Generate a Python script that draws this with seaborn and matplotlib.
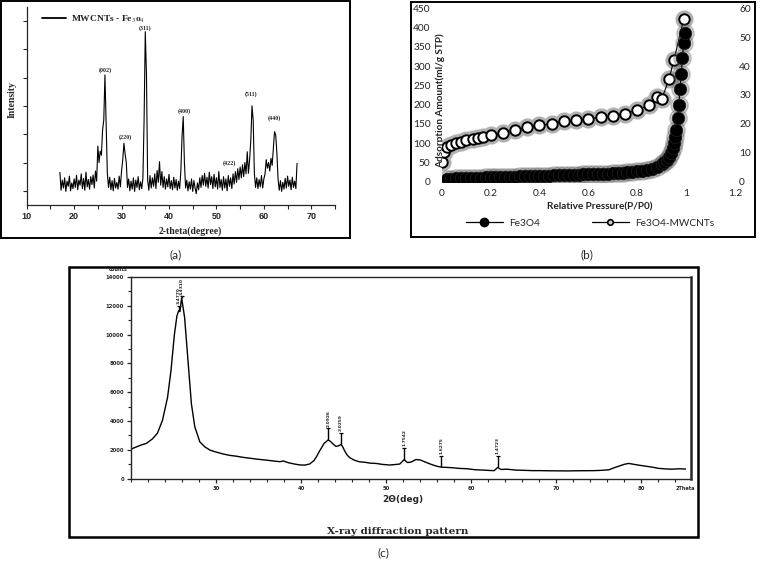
#Composite figure: XRD of MWCNTs-Fe3O4 (a), N2 isotherm (b), XRD pattern (c)

#import libraries
import numpy as np
import pandas as pd
import matplotlib.pyplot as plt
import matplotlib.patches as mpatches
from matplotlib.lines import Line2D
from matplotlib.ticker import MultipleLocator
import seaborn as sns

#figure size in pixels
W, H = 761, 561

#(a) XRD data, intensity in arbitrary units, one point every 0.25 degree from 17
a_start, a_step = 17.0, 0.25
a_intensity = [
    115, 52, 88, 60, 96, 48, 84, 66, 102, 50, 78, 58, 92, 62, 105, 54, 88, 70, 110, 58,
    94, 52, 116, 64, 90, 56, 100, 72, 106, 60, 120, 84, 208, 150, 190, 176, 265, 300, 459, 288,
    112, 62, 98, 54, 86, 50, 94, 60, 80, 56, 102, 64, 120, 160, 218, 180, 150, 62, 92, 50,
    84, 56, 96, 48, 88, 62, 100, 54, 82, 58, 94, 300, 612, 460, 88, 52, 104, 60, 96, 66,
    110, 58, 122, 80, 153, 70, 118, 62, 100, 56, 92, 64, 108, 58, 86, 54, 98, 60, 90, 52,
    84, 58, 120, 241, 312, 150, 60, 88, 50, 82, 56, 92, 48, 86, 60, 40, 78, 54, 96, 62,
    104, 70, 112, 66, 98, 60, 116, 72, 100, 58, 108, 64, 96, 56, 118, 62, 90, 52, 100, 60,
    92, 50, 104, 66, 96, 58, 110, 74, 118, 80, 128, 90, 134, 96, 142, 100, 150, 110, 188, 112,
    160, 230, 350, 300, 112, 62, 96, 58, 90, 64, 104, 60, 92, 110, 160, 130, 150, 120, 165, 140,
    200, 259, 247, 182, 90, 52, 86, 48, 80, 56, 94, 60, 102, 66, 88, 54, 98, 62, 84, 58,
    147]
a_theta = [a_start + a_step * i for i in range(len(a_intensity))]
a_planes = ["(002)", "(220)", "(311)", "(400)", "(422)", "(511)", "(440)"]
a_plane_x = [26.6, 30.8, 35.0, 43.2, 52.8, 57.3, 62.3]
a_plane_y = [476, 241, 624, 332, 147, 391, 306]

#(b) N2 adsorption isotherms
p_fe3o4 = [0.02, 0.04, 0.06, 0.08, 0.10, 0.12, 0.14, 0.16, 0.18, 0.20, 0.22, 0.24,
           0.26, 0.28, 0.30, 0.32, 0.34, 0.36, 0.38, 0.40, 0.42, 0.44, 0.46, 0.48,
           0.50, 0.52, 0.54, 0.56, 0.58, 0.60, 0.62, 0.64, 0.66, 0.68, 0.70, 0.72,
           0.74, 0.76, 0.78, 0.80, 0.82, 0.84, 0.86, 0.88, 0.90, 0.91, 0.92, 0.93,
           0.94, 0.945, 0.95, 0.955, 0.96, 0.965, 0.97, 0.975, 0.98, 0.985, 0.99, 0.995]
v_fe3o4 = [1.1, 1.1, 1.2, 1.2, 1.3, 1.3, 1.3, 1.4, 1.5, 1.5, 1.5, 1.6,
           1.6, 1.7, 1.7, 1.8, 1.8, 1.9, 1.9, 2.0, 2.0, 2.1, 2.2, 2.2,
           2.3, 2.3, 2.4, 2.4, 2.5, 2.5, 2.6, 2.7, 2.7, 2.8, 2.9, 3.0,
           3.1, 3.3, 3.4, 3.6, 3.8, 4.1, 4.5, 5.1, 6.1, 6.7, 7.5, 8.6,
           10.0, 11.5, 13.3, 15.5, 18.0, 22.0, 26.7, 32.0, 37.3, 42.7, 48.0, 51.3]
p_mwcnt = [0.0, 0.01, 0.02, 0.04, 0.06, 0.08, 0.1, 0.13, 0.15, 0.17, 0.2, 0.25,
           0.3, 0.35, 0.4, 0.45, 0.5, 0.55, 0.6, 0.65, 0.7, 0.75, 0.8, 0.85,
           0.88, 0.9, 0.93, 0.95, 0.99]
v_mwcnt = [52, 78, 90, 96, 100, 104, 108, 110, 113, 117, 121, 127,
           134, 141, 146, 151, 158, 161, 163, 167, 171, 176, 186, 199,
           219, 214, 266, 316, 421]

#(c) XRD pattern, counts
c_theta = [20.0, 20.6, 21.2, 21.8, 22.5, 23.1, 23.7, 24.3, 24.7, 25.1, 25.4, 25.6,
           25.75, 25.95, 26.3, 26.7, 27.1, 27.5, 28.1, 28.7, 29.3, 30.0, 30.8, 31.6,
           32.4, 33.2, 34.0, 34.9, 35.9, 36.9, 37.5, 37.9, 38.5, 39.2, 39.8, 40.4,
           41.0, 41.5, 41.8, 42.1, 42.4, 42.7, 43.0, 43.2, 43.5, 43.8, 44.1, 44.4,
           44.7, 44.9, 45.1, 45.4, 45.7, 46.2, 46.8, 47.5, 48.1, 48.8, 49.6, 50.4,
           51.0, 51.6, 52.1, 52.5, 52.9, 53.5, 54.0, 54.5, 55.0, 55.5, 56.0, 56.5,
           57.0, 57.8, 58.5, 59.5, 60.5, 61.4, 62.2, 62.7, 63.1, 63.5, 64.2, 65.2,
           66.2, 67.2, 68.2, 69.1, 70.2, 71.3, 72.4, 73.4, 74.4, 75.3, 76.2, 76.8,
           77.4, 78.0, 78.5, 79.1, 79.7, 80.5, 81.3, 82.0, 82.8, 83.6, 84.4, 85.2]
c_counts = [2050, 2200, 2340, 2450, 2750, 3150, 4050, 5650, 7500, 10000, 11300, 11650,
            11600, 12550, 11200, 8200, 5200, 3600, 2550, 2200, 1980, 1850, 1720, 1620,
            1560, 1480, 1420, 1350, 1290, 1220, 1180, 1230, 1110, 1020, 960, 940,
            1020, 1250, 1520, 1850, 2150, 2450, 2600, 2700, 2560, 2380, 2240, 2280,
            2380, 2200, 1950, 1650, 1470, 1300, 1180, 1140, 1080, 1060, 990, 950,
            980, 1020, 1320, 1120, 1150, 1330, 1300, 1180, 1060, 950, 860, 800,
            790, 760, 720, 690, 620, 600, 570, 560, 780, 640, 660, 600,
            580, 560, 560, 550, 545, 540, 550, 555, 560, 580, 620, 760,
            880, 1000, 1060, 1000, 940, 870, 800, 720, 680, 660, 690, 670]
c_peak_theta = [25.6, 25.95, 43.2, 44.7, 52.1, 56.5, 63.1]
c_peak_base = [11650, 12550, 2700, 2380, 1320, 800, 780]
c_peak_label = ["3.4770", "3.4310", "2.0926", "2.0259", "1.7542", "1.6275", "1.4723"]
c_stub = [350, 100, 800, 800, 800, 800, 800]

sns.set_style("ticks")
plt.rcParams["font.family"] = ["DejaVu Sans"]
plt.rcParams["mathtext.fontset"] = "stix"

fig = plt.figure(figsize=(W / 100, H / 100), dpi=100)


def fx(x):
    return x / W


def fy(y):
    return 1 - y / H


def frame(x0, y0, x1, y1, lw):
    fig.add_artist(mpatches.Rectangle((fx(x0), fy(y1)), fx(x1) - fx(x0), fy(y0) - fy(y1),
                                      transform=fig.transFigure, fill=False,
                                      ec="black", lw=lw))


serif = ["Liberation Serif", "DejaVu Serif"]
calibri = ["Lato", "DejaVu Sans"]

#---------------- (a) ----------------
ax_a = fig.add_axes([fx(26.7), fy(205), (335 - 26.7) / W, (205 - 6.7) / H])
sns.lineplot(x=a_theta, y=a_intensity, ax=ax_a, color="black", lw=0.8,
             label="MWCNTs - Fe$_3$o$_4$")
ax_a.set_xlim(10, 75)
ax_a.set_ylim(0, 700)
ax_a.xaxis.set_minor_locator(MultipleLocator(5))
ax_a.set_xticks(range(10, 80, 10))
ax_a.set_yticks(range(50, 700, 100))
ax_a.set_yticklabels([])
ax_a.spines[["top", "right"]].set_visible(False)
for s in ["left", "bottom"]:
    ax_a.spines[s].set_linewidth(0.9)
ax_a.tick_params(which="both", direction="out", length=3, width=0.8, labelsize=6.5, pad=2)
for t in ax_a.get_xticklabels():
    t.set_fontfamily(["Liberation Sans", "DejaVu Sans"])
    t.set_fontweight("bold")
ax_a.set_xlabel("")
ax_a.set_ylabel("")
for lab, x, y in zip(a_planes, a_plane_x, a_plane_y):
    ax_a.text(x, y, lab, ha="center", va="center", fontsize=4.3,
              fontfamily=serif, fontweight="bold")
leg = ax_a.legend(loc="upper left", bbox_to_anchor=(fx(33), fy(5)),
                  bbox_transform=fig.transFigure, frameon=False, handlelength=2.6,
                  handletextpad=0.5, prop={"family": serif, "weight": "bold", "size": 6.8})
for h in leg.get_lines():
    h.set_linewidth(1.3)
fig.text(fx(190), fy(231), "2-theta(degree)", ha="center", va="center",
         fontsize=7, fontfamily=serif, fontweight="bold")
fig.text(fx(11.7), fy(100), "Intensity", ha="center", va="center", rotation=90,
         fontsize=7, fontfamily=serif, fontweight="bold")
frame(1, 1, 350, 238, 1.4)
fig.text(fx(176), fy(255), "(a)", ha="center", va="center", fontsize=8.5,
         fontfamily=calibri)

#---------------- (b) ----------------
ax_b = fig.add_axes([fx(441.7), fy(181.7), (735 - 441.7) / W, (181.7 - 8.3) / H])
ax_b2 = ax_b.twinx()
#soft halo under the markers
ax_b.plot(p_mwcnt, v_mwcnt, ls="none", marker="o", ms=10, mfc="white",
          mec="#b0b0b0", mew=3, zorder=2)
sns.lineplot(x=p_mwcnt, y=v_mwcnt, ax=ax_b, color="black", lw=0.8, marker="o",
             markersize=7.5, markerfacecolor="white", markeredgecolor="black",
             markeredgewidth=1.4, zorder=3)
ax_b2.plot(p_fe3o4, v_fe3o4, ls="none", marker="o", ms=12.5, color="#606060",
           alpha=0.3, zorder=2)
sns.lineplot(x=p_fe3o4, y=v_fe3o4, ax=ax_b2, color="black", lw=0.8, marker="o",
             markersize=9, markerfacecolor="black", markeredgecolor="#202020",
             markeredgewidth=0.5, zorder=3)
ax_b.set_xlim(0, 1.2)
ax_b.set_ylim(0, 450)
ax_b2.set_ylim(0, 60)
ax_b.set_xticks([0, 0.2, 0.4, 0.6, 0.8, 1.0, 1.2])
ax_b.set_xticklabels(["0", "0.2", "0.4", "0.6", "0.8", "1", "1.2"])
ax_b.set_yticks(range(0, 451, 50))
ax_b2.set_yticks(range(0, 61, 10))
for a in (ax_b, ax_b2):
    for s in a.spines.values():
        s.set_visible(False)
    a.set_xlabel("")
    a.set_ylabel("")
    a.grid(False)
ax_b.tick_params(axis="both", length=0, labelsize=7.3, labelcolor="#222222")
ax_b.tick_params(axis="y", pad=8)
ax_b.tick_params(axis="x", pad=5)
ax_b2.tick_params(axis="y", length=0, labelsize=7.3, pad=3, labelcolor="#222222")
for t in ax_b.get_xticklabels() + ax_b.get_yticklabels() + ax_b2.get_yticklabels():
    t.set_fontfamily(calibri)
ax_b.text(fx(440.5), fy(101), "Adsorption Amount(ml/g STP)", transform=fig.transFigure,
          rotation=90, ha="center", va="center", fontsize=7.2, fontweight="bold",
          fontfamily=calibri, color="#222222", zorder=1, clip_on=False)
fig.text(fx(600), fy(207), "Relative Pressure(P/P0)", ha="center", va="center",
         fontsize=7.2, fontweight="bold", fontfamily=calibri, color="#222222")
handles = [Line2D([], [], color="black", lw=0.9, marker="o", ms=6, mfc="black"),
           Line2D([], [], color="black", lw=0.9, marker="o", ms=4, mfc="#cccccc",
                  mec="black", mew=1.2)]
fig.legend(handles, ["Fe3O4", "Fe3O4-MWCNTs"], loc="center", ncol=2,
           bbox_to_anchor=(fx(590), fy(223)), frameon=False, handlelength=3.6,
           handletextpad=0.6, columnspacing=5.2,
           prop={"family": calibri, "size": 7.3})
frame(411, 2, 755, 237, 1.4)
fig.text(fx(587), fy(255), "(b)", ha="center", va="center", fontsize=8.5,
         fontfamily=calibri)

#---------------- (c) ----------------
ax_c = fig.add_axes([fx(131), fy(478.7), (690.7 - 131) / W, (478.7 - 277) / H])
sns.lineplot(x=c_theta, y=c_counts, ax=ax_c, color="black", lw=1.0)
ax_c.set_xlim(20, 85.8)
ax_c.set_ylim(0, 14000)
ax_c.set_xticks(range(30, 90, 10))
ax_c.xaxis.set_minor_locator(MultipleLocator(2))
ax_c.set_yticks(range(0, 14001, 2000))
ax_c.yaxis.set_minor_locator(MultipleLocator(1000))
ax_c.tick_params(which="major", direction="out", length=3, width=0.9, labelsize=3.8, pad=2)
ax_c.tick_params(which="minor", direction="out", length=2, width=0.8)
for t in ax_c.get_xticklabels() + ax_c.get_yticklabels():
    t.set_fontweight("bold")
for s in ax_c.spines.values():
    s.set_linewidth(1.0)
ax_c.spines["right"].set_linewidth(1.8)
ax_c.set_xlabel("")
ax_c.set_ylabel("")
for x, base, lab, stub in zip(c_peak_theta, c_peak_base, c_peak_label, c_stub):
    top = base + stub
    ax_c.vlines(x, base, top, color="black", lw=1.0)
    ax_c.plot([x], [top], marker="_", ms=3, color="black", mew=0.9)
    ax_c.text(x, top + 120, lab, rotation=90, ha="center", va="bottom",
              fontsize=3.2, fontweight="bold")
fig.text(fx(118), fy(269.5), "counts", ha="center", va="center", fontsize=3.6,
         fontweight="bold")
fig.text(fx(685), fy(488), "2Theta", ha="center", va="center", fontsize=3.6,
         fontweight="bold")
fig.text(fx(403), fy(499), "2\u0398(deg)", ha="center", va="center", fontsize=6.5,
         fontweight="bold")
fig.text(fx(398), fy(531), "X-ray diffraction pattern", ha="center", va="center",
         fontsize=7.5, fontweight="bold", fontfamily=["DejaVu Serif"])
frame(69, 267, 698, 537, 1.8)
fig.text(fx(383), fy(553), "(c)", ha="center", va="center", fontsize=8.5,
         fontfamily=calibri)

plt.savefig("out.png", dpi=100)
